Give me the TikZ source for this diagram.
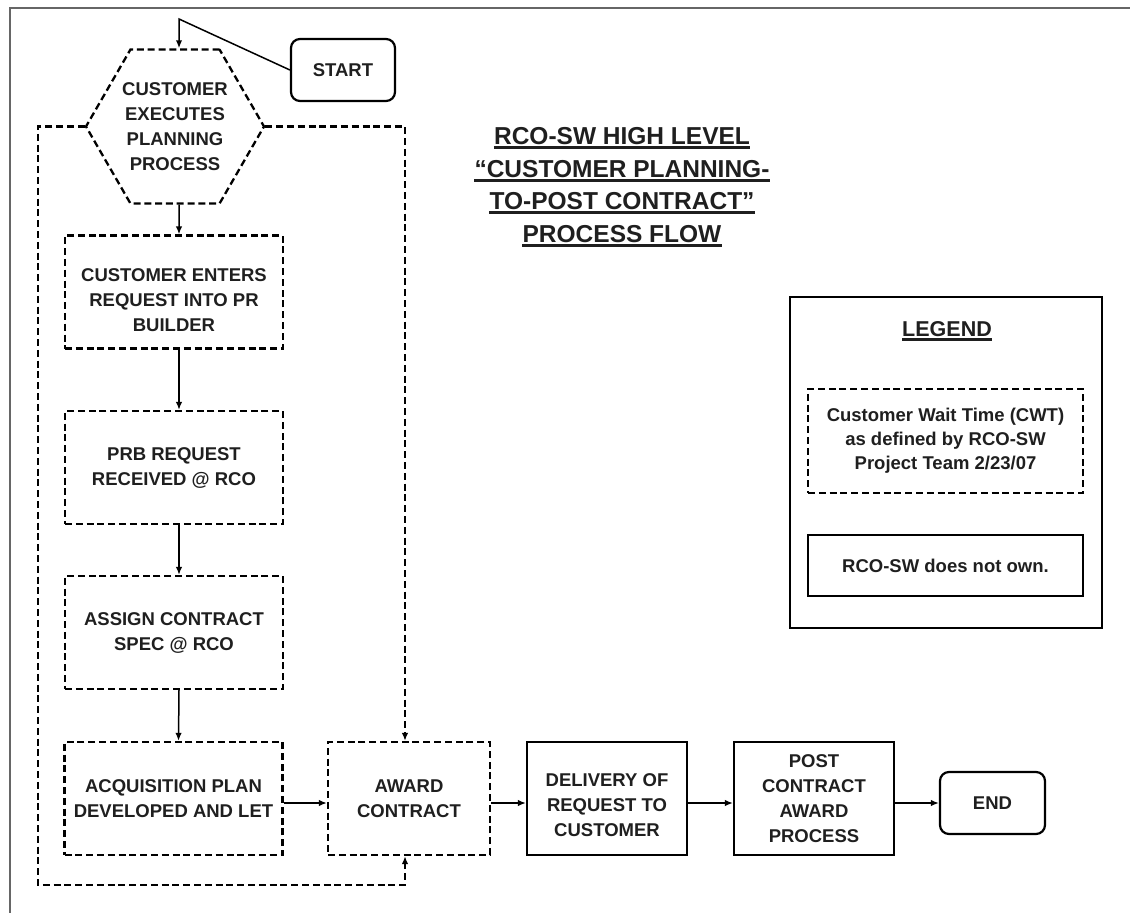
\documentclass[tikz,border=0pt]{standalone}
\usepackage{fontspec}
\setmainfont{Liberation Sans}
\usetikzlibrary{shapes.geometric,arrows.meta,calc}
\tikzset{
  lbl/.style={font=\bfseries\fontsize{18.5}{25}\selectfont, align=center, text=black!88},
  dpat/.style={dash pattern=on 7pt off 3.8pt},
  dbox/.style={draw, line width=2.3pt, dpat, minimum width=218pt, minimum height=113pt, inner sep=0pt, lbl},
  sbox/.style={draw, line width=2.2pt, minimum width=160pt, minimum height=113pt, inner sep=0pt, lbl},
  term/.style={draw, line width=2.2pt, rounded corners=9pt, inner sep=0pt, lbl},
  conn/.style={line width=1.5pt, -{Latex[length=8pt,width=6.5pt]}},
  dconn/.style={line width=2.3pt, dpat, -{Latex[length=8pt,width=6.5pt]}},
  ttl/.style={font=\bfseries\fontsize{24.5}{32}\selectfont, inner sep=0pt, anchor=base, text=black!88},
  uline/.style={line width=2.4pt, black!88},
}
\begin{document}
\begin{tikzpicture}[x=1pt, y=-1pt]
\useasboundingbox (0,0) rectangle (1130,913);
% page border (top and left)
\coordinate (pbl) at (10,913);
\coordinate (ptl) at (10,8);
\coordinate (ptr) at (1130,8);
\draw[line width=2.6pt, black!60] (pbl) -- (ptl) -- (ptr);

% hexagon
\node[draw, line width=2.3pt, dpat, regular polygon, regular polygon sides=6,
      minimum size=178pt, inner sep=0pt, lbl] (hex) at (175,126.5)
      {CUSTOMER\\EXECUTES\\PLANNING\\PROCESS};

% start
\node[term, minimum width=104pt, minimum height=62pt] (start) at (343,70) {START};
\coordinate (st) at (179,19);
\draw[conn] (start.west) -- (st) -- ([xshift=4pt]hex.north);

% left column
\node[dbox] (b1) at (174,292) {\rule{0pt}{29pt}CUSTOMER ENTERS\\REQUEST INTO PR\\BUILDER};
\node[dbox] (b2) at (174,467.5) {PRB REQUEST\\RECEIVED @ RCO};
\node[dbox] (b3) at (174,632.5) {ASSIGN CONTRACT\\SPEC @ RCO};
\node[dbox] (b4) at (173.5,798.5) {ACQUISITION PLAN\\DEVELOPED AND LET};

\draw[conn] ([xshift=4pt]hex.south) -- ([xshift=5pt]b1.north);
\draw[conn] ([xshift=5pt]b1.south) -- ([xshift=5pt]b2.north);
\draw[conn] ([xshift=5pt]b2.south) -- ([xshift=5pt]b3.north);
\draw[conn] ([xshift=5pt]b3.south) -- ([xshift=5pt]b4.north);

% bottom row
\node[dbox, minimum width=162pt] (award) at (409,798.5) {AWARD\\CONTRACT};
\node[sbox] (deliv) at (607,798.5) {\rule{0pt}{26pt}DELIVERY OF\\REQUEST TO\\CUSTOMER};
\node[sbox] (post) at (814,798.5) {POST\\CONTRACT\\AWARD\\PROCESS};
\node[term, minimum width=105pt, minimum height=62pt] (endn) at (992.5,803) {END};

\draw[conn] ([yshift=-4.5pt]b4.east) -- ([yshift=-4.5pt]award.west);
\draw[conn] ([yshift=-4.5pt]award.east) -- ([yshift=-4.5pt]deliv.west);
\draw[conn] ([yshift=-4.5pt]deliv.east) -- ([yshift=-4.5pt]post.west);
\draw[conn] ([yshift=-4.5pt]post.east) -- (endn.west);

% dashed loops
\coordinate (lc) at (38,885);
\draw[dconn] (hex.west) -| (lc) -| ([xshift=-4pt]award.south);
\draw[dconn] (hex.east) -| ([xshift=-4pt]award.north);

% title
\node[ttl] (t1) at (622,144) {RCO-SW HIGH LEVEL};
\node[ttl] (t2) at (622,177) {“CUSTOMER PLANNING-};
\node[ttl] (t3) at (622,209) {TO-POST CONTRACT”};
\node[ttl] (t4) at (622,242) {PROCESS FLOW};
\foreach \t in {t1,t2,t3,t4}
  \draw[uline] ([yshift=-3.5pt]\t.base west) -- ([yshift=-3.5pt]\t.base east);

% legend
\node[draw, line width=2.2pt, minimum width=312pt, minimum height=331pt, inner sep=0pt] (leg) at (946,462.5) {};
\node[font=\bfseries\fontsize{21.5}{25}\selectfont, inner sep=0pt, anchor=base, text=black!88] (legt) at (947,336) {LEGEND};
\draw[line width=2.2pt, black!88] ([yshift=-3.5pt]legt.base west) -- ([yshift=-3.5pt]legt.base east);
\node[dbox, minimum width=275pt, minimum height=104pt, font=\bfseries\fontsize{18.5}{24}\selectfont] (cwt) at (945.5,441)
  {Customer Wait Time (CWT)\\as defined by RCO-SW\\Project Team 2/23/07};
\node[sbox, minimum width=275pt, minimum height=61pt] (own) at (945.5,565.5) {RCO-SW does not own.};
\end{tikzpicture}
\end{document}
